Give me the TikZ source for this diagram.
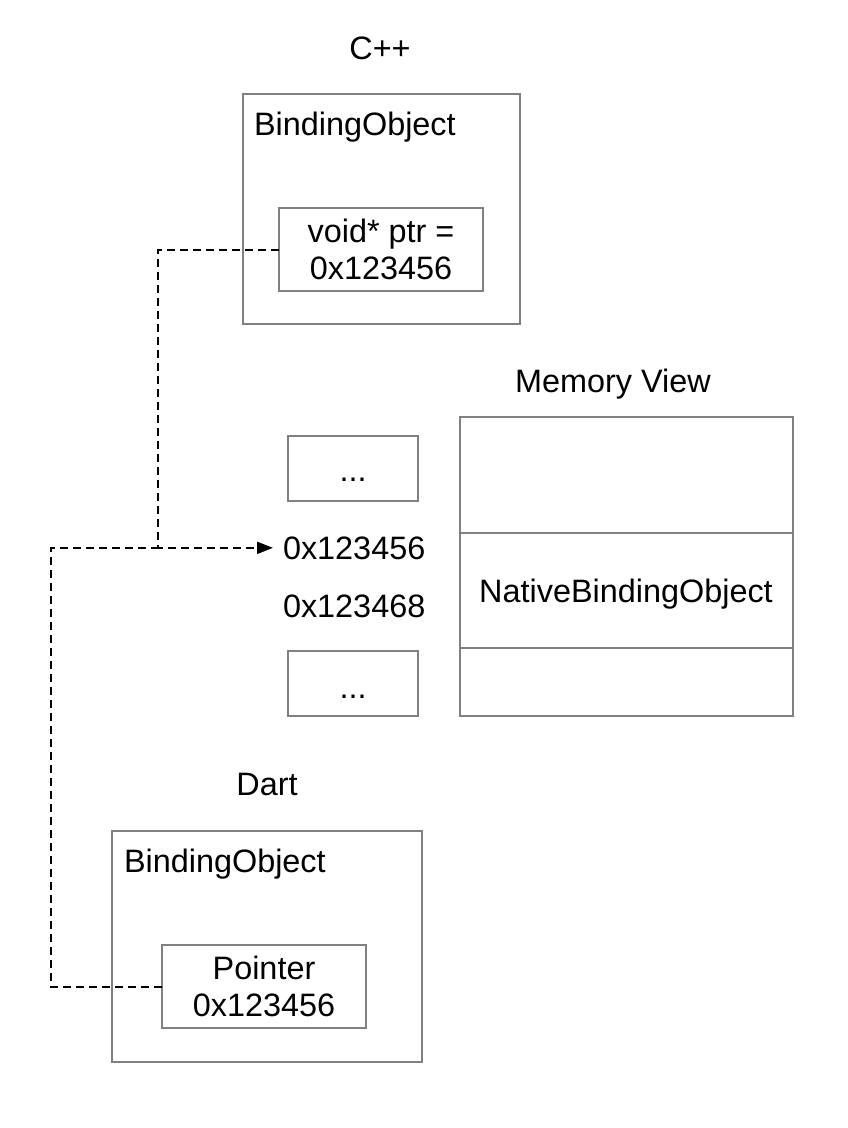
\documentclass[tikz,border=0pt]{standalone}
\usepackage{fontspec}
\setmainfont{Liberation Sans}
\usetikzlibrary{arrows.meta}
\definecolor{boxgray}{RGB}{128,128,128}
\begin{document}
\begin{tikzpicture}[x=1pt,y=-1pt,
  box/.style={draw=boxgray,line width=1.8pt,inner sep=0pt,outer sep=0pt},
  txt/.style={inner sep=0pt,outer sep=0pt,font=\fontsize{32.4}{37}\selectfont},
  link/.style={draw=black,line width=2pt,dash pattern=on 8pt off 5pt},
]
\useasboundingbox (0,0) rectangle (848,1128);
% C++ part
\node[txt,anchor=base] (cpplab) at (380,59) {C++};
\node[box,minimum width=277pt,minimum height=230pt] (cpp) at (381.5,209) {};
\node[txt,anchor=base west] (cppbo) at (254,135) {BindingObject};
\node[box,txt,minimum width=204pt,minimum height=83pt,align=center] (ptr) at (381,249.5) {void* ptr =\\0x123456};
% Memory view
\node[txt,anchor=base] (memlab) at (613,392) {Memory View};
\node[box,minimum width=333pt,minimum height=116pt] (m1) at (626.5,475) {};
\node[box,minimum width=333pt,minimum height=115pt] (m2) at (626.5,590.5) {};
\node[box,minimum width=333pt,minimum height=68pt] (m3) at (626.5,682) {};
\node[txt,anchor=base] (nbo) at (626,602) {NativeBindingObject};
\node[box,minimum width=130pt,minimum height=65pt] (d1) at (353,468.5) {};
\node[txt,anchor=base] (d1t) at (353,481) {...};
\node[box,minimum width=130pt,minimum height=65pt] (d2) at (353,683.5) {};
\node[txt,anchor=base] (d2t) at (353,698) {...};
\node[txt,anchor=base west,inner xsep=10pt] (a1) at (273,559) {0x123456};
\node[txt,anchor=base west] (a2) at (283,617) {0x123468};
% Dart part
\node[txt,anchor=base] (dartlab) at (267,795) {Dart};
\node[box,minimum width=310pt,minimum height=231pt] (dart) at (267,946.5) {};
\node[txt,anchor=base west] (dartbo) at (124,872) {BindingObject};
\node[box,txt,minimum width=204pt,minimum height=83pt,align=center] (ptr2) at (264,986.5) {Pointer\\0x123456};
% connectors
\coordinate (x1) at (158,0);
\coordinate (x2) at (51,0);
\coordinate (j1) at (a1.west -| x1);
\coordinate (c1) at (a1.west -| x2);
\draw[link,-{Triangle[length=16pt,width=12pt]}] (ptr.west) -| (j1) -- (a1.west);
\draw[link] (ptr2.west) -| (c1) -- (j1);
\end{tikzpicture}
\end{document}
